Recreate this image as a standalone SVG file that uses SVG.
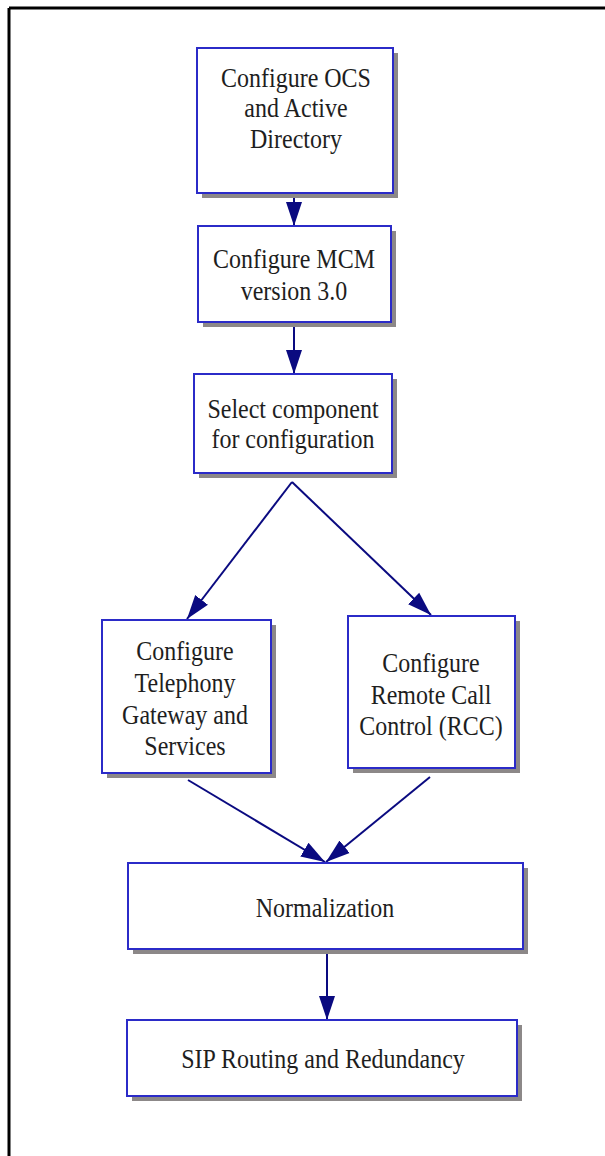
<svg xmlns="http://www.w3.org/2000/svg" width="605" height="1156" viewBox="0 0 605 1156">
<style>
.sh{fill:#8c8888;stroke:none}
.bx{fill:#ffffff;stroke:#2b2bc8;stroke-width:2}
.t{font-family:"Liberation Serif","Times New Roman",serif;font-size:24px;fill:#1e1e1e;text-anchor:middle}
.e{stroke:#0a0a80;stroke-width:2;fill:none;marker-end:url(#ah)}
</style>
<defs>
<marker id="ah" markerUnits="userSpaceOnUse" markerWidth="26" markerHeight="18" refX="24" refY="8" orient="auto" viewBox="0 0 26 16">
<path d="M0,0 L24,8 L0,16 z" fill="#0a0a80"/>
</marker>
</defs>
<rect x="0" y="0" width="605" height="1156" fill="#ffffff"/>
<path d="M9,8 H605 M9,8 V1156" stroke="#000" stroke-width="3" fill="none"/>
<g id="connectors">
<line class="e" x1="294" y1="193" x2="294" y2="226"/>
<line class="e" x1="294" y1="322" x2="294" y2="374"/>
<line class="e" x1="292" y1="482" x2="187" y2="619"/>
<line class="e" x1="292" y1="482" x2="431" y2="615"/>
<line class="e" x1="188" y1="780" x2="325" y2="862"/>
<line class="e" x1="430" y1="777" x2="326" y2="862"/>
<line class="e" x1="327" y1="949" x2="327" y2="1020"/>
</g>
<g id="n1">
<rect class="sh" x="202" y="53" width="196" height="145"/>
<rect class="bx" x="197" y="48" width="196" height="145"/>
<text class="t" transform="translate(296,87) scale(1,1.12)">Configure OCS</text>
<text class="t" transform="translate(296,117) scale(1,1.12)">and Active</text>
<text class="t" transform="translate(296,148) scale(1,1.12)">Directory</text>
</g>
<g id="n2">
<rect class="sh" x="203" y="231" width="193" height="96"/>
<rect class="bx" x="198" y="226" width="193" height="96"/>
<text class="t" transform="translate(294,268) scale(1,1.12)">Configure MCM</text>
<text class="t" transform="translate(294,300) scale(1,1.12)">version 3.0</text>
</g>
<g id="n3">
<rect class="sh" x="199" y="379" width="198" height="99"/>
<rect class="bx" x="194" y="374" width="198" height="99"/>
<text class="t" transform="translate(293,418) scale(1,1.12)">Select component</text>
<text class="t" transform="translate(293,448) scale(1,1.12)">for configuration</text>
</g>
<g id="n4">
<rect class="sh" x="107" y="625" width="169" height="153"/>
<rect class="bx" x="102" y="620" width="169" height="153"/>
<text class="t" transform="translate(185,660) scale(1,1.12)">Configure</text>
<text class="t" transform="translate(185,692) scale(1,1.12)">Telephony</text>
<text class="t" transform="translate(185,724) scale(1,1.12)">Gateway and</text>
<text class="t" transform="translate(185,755) scale(1,1.12)">Services</text>
</g>
<g id="n5">
<rect class="sh" x="353" y="621" width="167" height="152"/>
<rect class="bx" x="348" y="616" width="167" height="152"/>
<text class="t" transform="translate(431,672) scale(1,1.12)">Configure</text>
<text class="t" transform="translate(431,704) scale(1,1.12)">Remote Call</text>
<text class="t" transform="translate(431,735) scale(1,1.12)">Control (RCC)</text>
</g>
<g id="n6">
<rect class="sh" x="133" y="868" width="395" height="86"/>
<rect class="bx" x="128" y="863" width="395" height="86"/>
<text class="t" transform="translate(325,917) scale(1,1.12)">Normalization</text>
</g>
<g id="n7">
<rect class="sh" x="132" y="1025" width="390" height="76"/>
<rect class="bx" x="127" y="1020" width="390" height="76"/>
<text class="t" transform="translate(323,1068) scale(1,1.12)">SIP Routing and Redundancy</text>
</g>
</svg>
